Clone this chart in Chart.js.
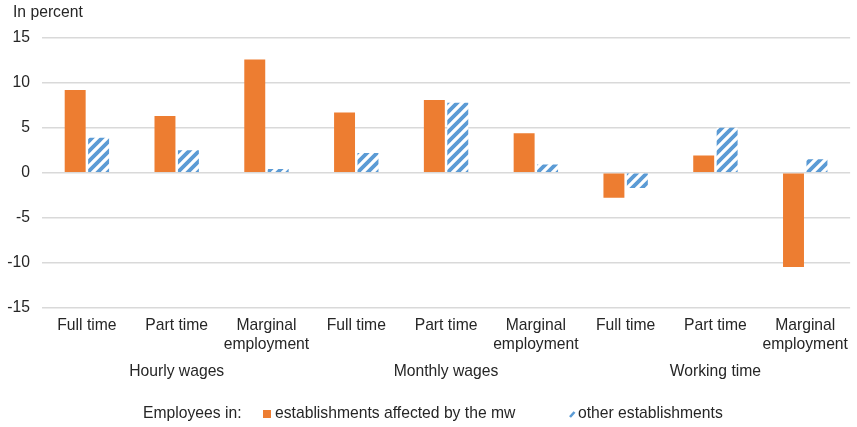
<!DOCTYPE html>
<html>
<head>
<meta charset="utf-8">
<script src="https://cdn.jsdelivr.net/npm/chart.js@4/dist/chart.umd.min.js"></script>
<style>
  html, body { margin: 0; padding: 0; background: #ffffff; }
  #wrap { width: 857px; height: 427px; position: relative; }
</style>
</head>
<body>
<div id="wrap"><canvas id="c"></canvas></div>
<script>
// ---- Data ----
const categories = [
  'Full time', 'Part time', ['Marginal', 'employment'],
  'Full time', 'Part time', ['Marginal', 'employment'],
  'Full time', 'Part time', ['Marginal', 'employment']
];
const groupLabels = ['Hourly wages', 'Monthly wages', 'Working time'];
const groupCenterIndex = [1, 4, 7];
const affectedValues = [9.2, 6.3, 12.6, 6.7, 8.1, 4.4, -2.8, 1.9, -10.5];
const otherValues = [3.9, 2.5, 0.4, 2.2, 7.8, 0.9, -1.7, 5.0, 1.5];
const yTicks = [-15, -10, -5, 0, 5, 10, 15];
const yTitle = 'In percent';
const legendTitle = 'Employees in:';
const seriesNames = ['establishments affected by the mw', 'other establishments'];

// ---- Styles ----
const ORANGE = '#ED7D31';
const BLUE = '#5B9BD5';
const TEXT = '#262626';
const GRID = '#D9D9D9';
const FONT = '"Liberation Sans", Arial, sans-serif';
const FS = 15.7;

function makeHatch() {
  const s = 10;
  const p = document.createElement('canvas');
  p.width = s; p.height = s;
  const g = p.getContext('2d');
  g.fillStyle = '#ffffff';
  g.fillRect(0, 0, s, s);
  g.strokeStyle = BLUE;
  g.lineWidth = 3.8;
  g.lineCap = 'square';
  g.beginPath();
  g.moveTo(-s, s); g.lineTo(s, -s);
  g.moveTo(0, s); g.lineTo(s, 0);
  g.moveTo(0, 2 * s); g.lineTo(2 * s, 0);
  g.stroke();
  return g.createPattern(p, 'repeat');
}
const ctx = document.getElementById('c').getContext('2d');
const hatch = makeHatch();

const extraText = {
  id: 'extraText',
  afterDraw(chart) {
    const c = chart.ctx;
    const x = chart.scales.x;
    c.save();
    c.fillStyle = TEXT;
    c.font = FS + 'px ' + FONT;
    c.textBaseline = 'middle';
    // axis title
    c.textAlign = 'left';
    c.fillText(yTitle, 13, 13);
    // group labels
    c.textAlign = 'center';
    groupLabels.forEach((g, i) => {
      c.fillText(g, x.getPixelForValue(groupCenterIndex[i]), 372);
    });
    // legend
    const ly = 414;
    c.textAlign = 'left';
    c.fillText(legendTitle, 143, ly);
    c.fillStyle = ORANGE;
    c.fillRect(263, ly - 4, 8, 8);
    c.fillStyle = TEXT;
    c.fillText(seriesNames[0], 275, ly);
    // blue hatch icon
    c.strokeStyle = BLUE;
    c.lineWidth = 2.6;
    c.beginPath();
    c.moveTo(570, ly + 3);
    c.lineTo(574.5, ly - 2);
    c.stroke();
    c.fillStyle = TEXT;
    c.fillText(seriesNames[1], 578, ly);
    c.restore();
  }
};

new Chart(ctx, {
  type: 'bar',
  data: {
    labels: categories,
    datasets: [
      {
        label: seriesNames[0],
        data: affectedValues,
        backgroundColor: ORANGE,
        borderWidth: 0,
        categoryPercentage: 0.522,
        barPercentage: 0.894
      },
      {
        label: seriesNames[1],
        data: otherValues,
        backgroundColor: hatch,
        borderWidth: 0,
        categoryPercentage: 0.522,
        barPercentage: 0.894
      }
    ]
  },
  options: {
    responsive: true,
    maintainAspectRatio: false,
    animation: false,
    devicePixelRatio: 1,
    layout: { padding: { left: 0, right: 1, top: 38, bottom: 64 } },
    plugins: {
      legend: { display: false },
      tooltip: { enabled: false },
      title: { display: false }
    },
    scales: {
      x: {
        grid: { display: false, drawTicks: false },
        border: { display: false },
        ticks: {
          color: TEXT,
          font: { family: FONT, size: FS, lineHeight: 1.2 },
          padding: 9,
          maxRotation: 0,
          autoSkip: false
        }
      },
      y: {
        min: -15,
        max: 15,
        afterBuildTicks(scale) { scale.ticks = yTicks.map(v => ({ value: v })); },
        afterFit(scale) { scale.width = 42; },
        grid: { color: GRID, lineWidth: 1.5, drawTicks: false },
        border: { display: false },
        ticks: {
          color: TEXT,
          font: { family: FONT, size: FS },
          padding: 12
        }
      }
    }
  },
  plugins: [extraText]
});
</script>
</body>
</html>
